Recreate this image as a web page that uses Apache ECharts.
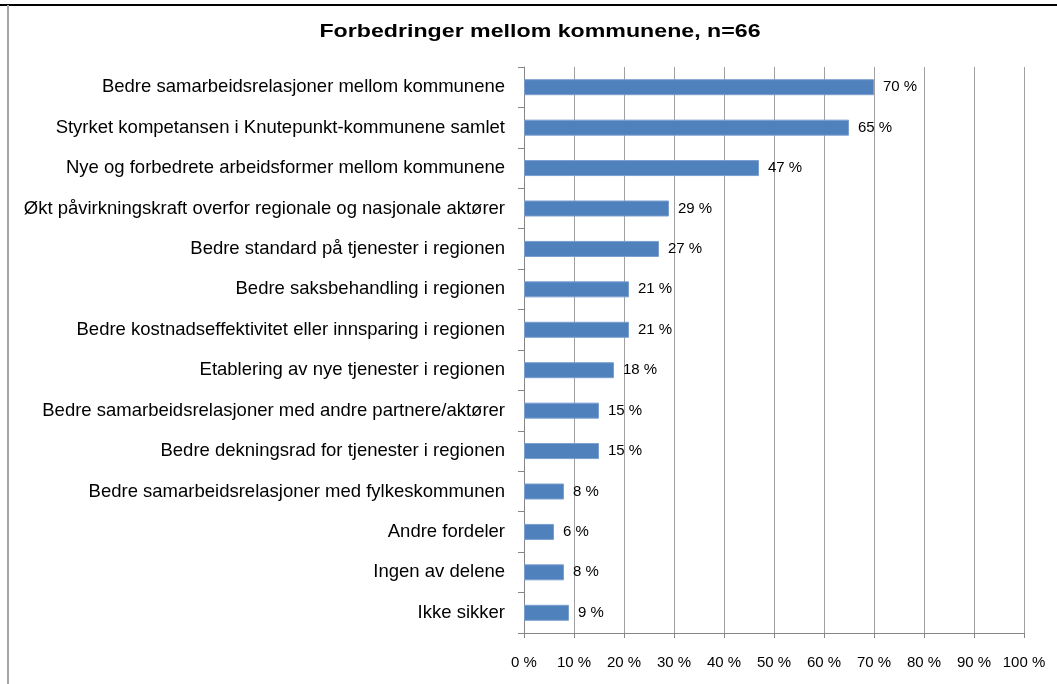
<!DOCTYPE html>
<html>
<head>
<meta charset="utf-8">
<script src="https://cdn.jsdelivr.net/npm/echarts@6/dist/echarts.min.js"></script>
<style>
  html, body { margin: 0; padding: 0; background: #fff; }
  #chart { width: 1057px; height: 684px; }
</style>
</head>
<body>
<div id="chart"></div>
<script>
const categories = [
  'Bedre samarbeidsrelasjoner mellom kommunene',
  'Styrket kompetansen i Knutepunkt-kommunene samlet',
  'Nye og forbedrete arbeidsformer mellom kommunene',
  'Økt påvirkningskraft overfor regionale og nasjonale aktører',
  'Bedre standard på tjenester i regionen',
  'Bedre saksbehandling i regionen',
  'Bedre kostnadseffektivitet eller innsparing i regionen',
  'Etablering av nye tjenester i regionen',
  'Bedre samarbeidsrelasjoner med andre partnere/aktører',
  'Bedre dekningsrad for tjenester i regionen',
  'Bedre samarbeidsrelasjoner med fylkeskommunen',
  'Andre fordeler',
  'Ingen av delene',
  'Ikke sikker'
];
const values = [70, 65, 47, 29, 27, 21, 21, 18, 15, 15, 8, 6, 8, 9];
const xTicks = { min: 0, max: 100, interval: 10 };
const titleText = 'Forbedringer mellom kommunene, n=66';

const FONT = '"Liberation Sans", Arial, sans-serif';
const chart = echarts.init(document.getElementById('chart'));

chart.setOption({
  animation: false,
  graphic: [
    { type: 'line', shape: { x1: 0, y1: 5, x2: 1057, y2: 5 }, style: { stroke: '#000', lineWidth: 2 } },
    { type: 'line', shape: { x1: 8, y1: 5, x2: 8, y2: 684 }, style: { stroke: '#a6a6a6', lineWidth: 2 } },
    // title, a bit wider than the bundled bold font
    {
      type: 'text', x: 540, y: 32, scaleX: 1.22,
      style: {
        text: titleText, fontFamily: FONT, fontSize: 19, fontWeight: 'bold',
        fill: '#000', align: 'center', verticalAlign: 'middle'
      }
    }
  ],
  grid: { left: 524, right: 33, top: 67, height: 566, containLabel: false },
  xAxis: {
    type: 'value', min: xTicks.min, max: xTicks.max, interval: xTicks.interval,
    axisLine: { show: true, lineStyle: { color: '#868686', width: 1 } },
    axisTick: { show: true, length: 5, lineStyle: { color: '#868686' } },
    splitLine: { show: true, lineStyle: { color: '#a0a0a0', width: 1 } },
    axisLabel: { formatter: '{value} %', fontFamily: FONT, fontSize: 15, color: '#000', margin: 22 }
  },
  yAxis: {
    type: 'category', data: categories, inverse: true,
    axisLine: { show: true, lineStyle: { color: '#868686', width: 1 } },
    axisTick: { show: true, length: 6, lineStyle: { color: '#868686' } },
    axisLabel: { fontFamily: FONT, fontSize: 18.5, color: '#000', margin: 19 }
  },
  series: [{
    type: 'bar', data: values, barWidth: 16,
    itemStyle: { color: '#4F81BD', borderColor: '#7A9FCF', borderWidth: 1 },
    label: {
      show: true, position: 'right', distance: 9, formatter: '{c} %',
      fontFamily: FONT, fontSize: 15, color: '#000'
    }
  }]
});
</script>
</body>
</html>
